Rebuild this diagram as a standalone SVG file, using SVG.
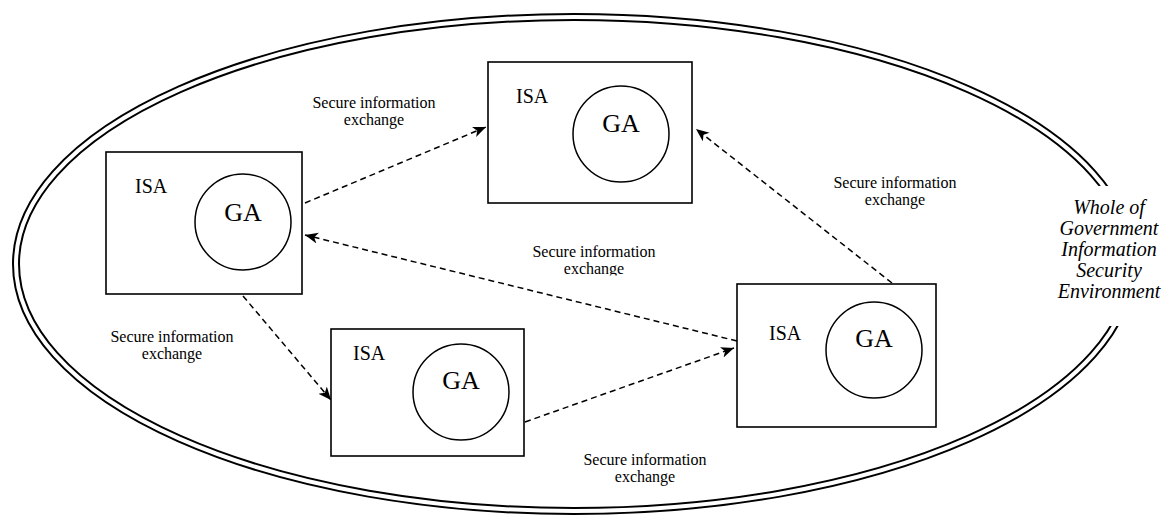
<svg xmlns="http://www.w3.org/2000/svg" width="1168" height="516" viewBox="0 0 1168 516">
<style>
.box{fill:#fff;stroke:#000;stroke-width:1.6}
.ga{fill:#fff;stroke:#000;stroke-width:1.5}
.isa{font-family:"Liberation Serif","Times New Roman",serif;font-size:20px;fill:#000}
.gat{font-family:"Liberation Serif","Times New Roman",serif;font-size:26px;fill:#000;text-anchor:middle}
.lbl{font-family:"Liberation Serif","Times New Roman",serif;font-size:16px;fill:#000;text-anchor:middle}
.env{font-family:"Liberation Serif","Times New Roman",serif;font-size:20px;font-style:italic;fill:#000;text-anchor:middle}
.conn{fill:none;stroke:#000;stroke-width:1.5;stroke-dasharray:6 4}
</style>
<defs>
<marker id="arr" markerUnits="userSpaceOnUse" markerWidth="15" markerHeight="12" refX="13" refY="5.5" orient="auto">
<path d="M0,0 L13,5.5 L0,11 L3.5,5.5 Z" fill="#000"/>
</marker>
<clipPath id="clipC"><rect x="500" y="230" width="200" height="45.5"/></clipPath>
</defs>
<g id="environment">
<ellipse cx="574" cy="264" rx="558" ry="247" fill="none" stroke="#000" stroke-width="8"/>
<ellipse cx="574" cy="264" rx="558" ry="247" fill="none" stroke="#fff" stroke-width="4"/>
<rect x="1050" y="186" width="118" height="140" fill="#fff"/>
<text class="env"><tspan x="1109" y="214">Whole of</tspan><tspan x="1109" y="235">Government</tspan><tspan x="1109" y="256">Information</tspan><tspan x="1109" y="277">Security</tspan><tspan x="1109" y="298">Environment</tspan></text>
</g>
<g id="connectors">
<line class="conn" x1="305" y1="203" x2="486" y2="127" marker-end="url(#arr)"/>
<line class="conn" x1="892" y1="283" x2="696" y2="129" marker-end="url(#arr)"/>
<line class="conn" x1="737" y1="341" x2="305" y2="235" marker-end="url(#arr)"/>
<line class="conn" x1="243" y1="296" x2="331" y2="400" marker-end="url(#arr)"/>
<line class="conn" x1="525" y1="422" x2="734" y2="348" marker-end="url(#arr)"/>
<text class="lbl"><tspan x="374" y="108">Secure information</tspan><tspan x="374" y="125">exchange</tspan></text>
<text class="lbl"><tspan x="895" y="188">Secure information</tspan><tspan x="895" y="205">exchange</tspan></text>
<text class="lbl" clip-path="url(#clipC)"><tspan x="594" y="257">Secure information</tspan><tspan x="594" y="274">exchange</tspan></text>
<text class="lbl"><tspan x="172" y="342">Secure information</tspan><tspan x="172" y="359">exchange</tspan></text>
<text class="lbl"><tspan x="645" y="465">Secure information</tspan><tspan x="645" y="482">exchange</tspan></text>
</g>
<g id="node1">
<rect class="box" x="106" y="152" width="196" height="142"/>
<text class="isa" x="135" y="193">ISA</text>
<circle class="ga" cx="243" cy="222" r="48"/>
<text class="gat" x="243" y="221">GA</text>
</g>
<g id="node2">
<rect class="box" x="488" y="62" width="204" height="141"/>
<text class="isa" x="516" y="103">ISA</text>
<circle class="ga" cx="621" cy="134" r="48"/>
<text class="gat" x="621" y="132">GA</text>
</g>
<g id="node3">
<rect class="box" x="331" y="329" width="193" height="127"/>
<text class="isa" x="353" y="360">ISA</text>
<circle class="ga" cx="461" cy="392" r="48"/>
<text class="gat" x="461" y="389">GA</text>
</g>
<g id="node4">
<rect class="box" x="737" y="284" width="199" height="143"/>
<text class="isa" x="769" y="340">ISA</text>
<circle class="ga" cx="874" cy="350" r="48"/>
<text class="gat" x="874" y="347">GA</text>
</g>
</svg>
